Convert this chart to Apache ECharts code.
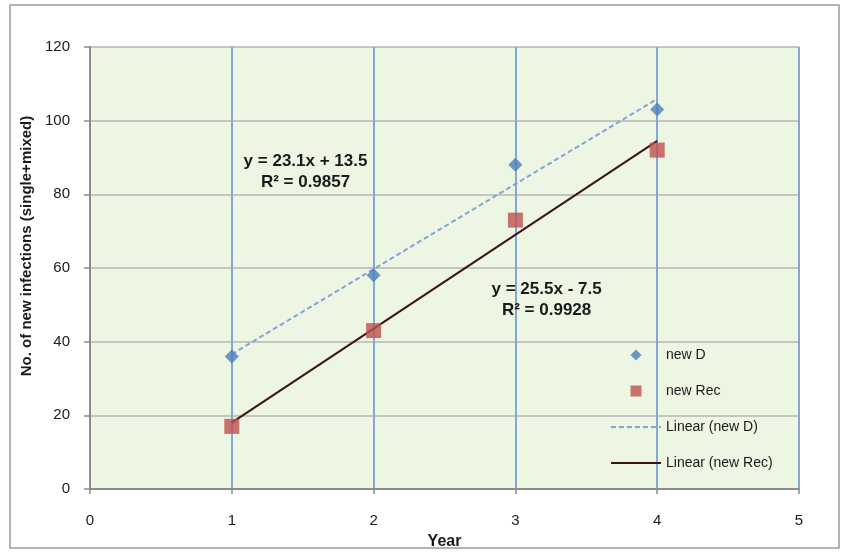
<!DOCTYPE html>
<html><head><meta charset="utf-8">
<script src="https://cdn.jsdelivr.net/npm/echarts@6/dist/echarts.min.js"></script>
<style>html,body{margin:0;padding:0;background:#fff}#c{width:847px;height:552px}</style>
</head><body><div id="c"></div>
<script>
const years = [1, 2, 3, 4];
const newD = [36, 58, 88, 103];
const newRec = [17, 43, 73, 92];
const trendD = { slope: 23.1, intercept: 13.5, r2: '0.9857', label: 'y = 23.1x + 13.5', at: [1.52, 86.2] };
const trendRec = { slope: 25.5, intercept: -7.5, r2: '0.9928', label: 'y = 25.5x - 7.5', at: [3.22, 51.3] };
const xTicks = [0, 1, 2, 3, 4, 5];
const yTicks = [0, 20, 40, 60, 80, 100, 120];

const fitLine = (t) => [[years[0], t.slope * years[0] + t.intercept], [years[years.length - 1], t.slope * years[years.length - 1] + t.intercept]];
const font = 'Liberation Sans, Arial, sans-serif';
const eqLabel = (t) => ({
  show: true, formatter: t.label + '\nR² = ' + t.r2, fontWeight: 'bold', fontSize: 17, lineHeight: 21,
  color: '#1a1a1a', align: 'center', verticalAlign: 'middle', position: 'inside', fontFamily: font
});

const chart = echarts.init(document.getElementById('c'), null, { renderer: 'canvas' });
chart.setOption({
  backgroundColor: '#fff',
  animation: false,
  textStyle: { fontFamily: font },
  graphic: [{ type: 'rect', shape: { x: 10, y: 5, width: 829, height: 543 }, style: { fill: 'none', stroke: '#9a9a9a', lineWidth: 1.5 }, z: -10 }],
  grid: { left: 90, right: 48, top: 47, bottom: 63, show: true, backgroundColor: '#edf5e3', borderWidth: 0, outerBoundsMode: 'none', containLabel: false },
  xAxis: {
    type: 'value', min: xTicks[0], max: xTicks[xTicks.length - 1], interval: 1,
    name: 'Year', nameLocation: 'middle', nameGap: 45,
    nameTextStyle: { fontWeight: 'bold', fontSize: 16, color: '#1a1a1a', fontFamily: font },
    axisLine: { onZero: false, lineStyle: { color: '#8c8c8c', width: 2 } },
    axisTick: { show: true, length: 5, lineStyle: { color: '#8c8c8c', width: 1.5 } },
    axisLabel: { fontSize: 15, color: '#1a1a1a', margin: 24, fontFamily: font },
    splitLine: { show: true, lineStyle: { color: '#84a8d6', width: 2 } }
  },
  yAxis: {
    type: 'value', min: yTicks[0], max: yTicks[yTicks.length - 1], interval: 20,
    name: 'No. of new infections (single+mixed)', nameLocation: 'middle', nameGap: 53, nameRotate: 90,
    nameTextStyle: { fontWeight: 'bold', fontSize: 15, color: '#1a1a1a', fontFamily: font, padding: [0, 0, 0, 44] },
    axisLine: { show: true, lineStyle: { color: '#8c8c8c', width: 2 } },
    axisTick: { show: true, length: 6, lineStyle: { color: '#8c8c8c', width: 1.5 } },
    axisLabel: { fontSize: 15, color: '#1a1a1a', margin: 20, fontFamily: font },
    splitLine: { show: true, lineStyle: { color: '#b4b4b4', width: 1.5 } }
  },
  legend: {
    orient: 'vertical', left: 605, top: 343, itemWidth: 50, itemHeight: 11, itemGap: 22,
    symbolKeepAspect: true,
    textStyle: { fontSize: 14, color: '#1a1a1a', fontFamily: font },
    data: [
      { name: 'new D', icon: 'path://M5,0L10,5L5,10L0,5Z' },
      { name: 'new Rec', icon: 'path://M0,0H10V10H0Z' },
      { name: 'Linear (new D)', itemStyle: { opacity: 0 } },
      { name: 'Linear (new Rec)', itemStyle: { opacity: 0 } }
    ]
  },
  series: [
    {
      name: 'Linear (new D)', type: 'line', data: fitLine(trendD), symbol: 'none', z: 3,
      lineStyle: { color: '#7ea6d8', width: 2, type: [5, 3] }, itemStyle: { color: '#7ea6d8' },
      markPoint: { symbol: 'circle', symbolSize: 1, itemStyle: { color: 'rgba(0,0,0,0)' }, label: eqLabel(trendD), data: [{ coord: trendD.at }] }
    },
    {
      name: 'Linear (new Rec)', type: 'line', data: fitLine(trendRec), symbol: 'none', z: 3,
      lineStyle: { color: '#3b1414', width: 2 }, itemStyle: { color: '#3b1414' },
      markPoint: { symbol: 'circle', symbolSize: 1, itemStyle: { color: 'rgba(0,0,0,0)' }, label: eqLabel(trendRec), data: [{ coord: trendRec.at }] }
    },
    { name: 'new D', type: 'scatter', symbol: 'diamond', symbolSize: 14, z: 4, itemStyle: { color: '#4a7ebb' }, data: years.map((x, i) => [x, newD[i]]) },
    { name: 'new Rec', type: 'scatter', symbol: 'rect', symbolSize: 15, z: 4, itemStyle: { color: '#c0504d' }, data: years.map((x, i) => [x, newRec[i]]) }
  ]
});
</script></body></html>
